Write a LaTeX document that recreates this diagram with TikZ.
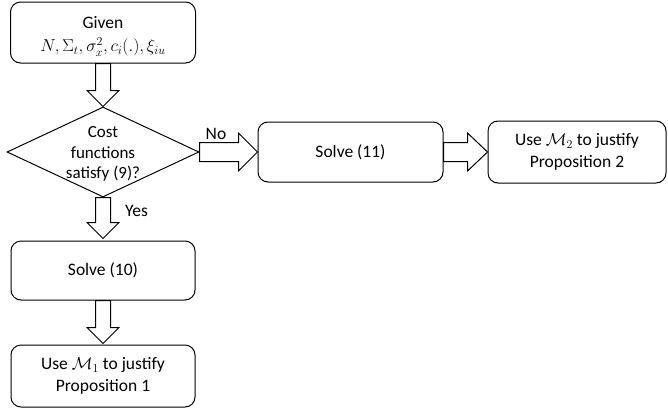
\documentclass[tikz,border=0pt]{standalone}
\usepackage{fontspec}
\setmainfont{Carlito}
\usetikzlibrary{shapes.geometric,calc}
\begin{document}
\begin{tikzpicture}[x=1pt,y=-1pt,
  box/.style={draw, rounded corners=10pt, line width=1pt, inner sep=0pt, align=center,
    font=\fontsize{17.5}{22}\selectfont},
  decision/.style={draw, diamond, inner sep=0pt, line width=1pt},
  barrow/.style={draw, line width=1pt, fill=white, line join=miter},
  lbl/.style={font=\fontsize{17.5}{22}\selectfont, inner sep=0pt}]
\useasboundingbox (0,0) rectangle (668,413);
% nodes
\node[box, minimum width=185pt, minimum height=61pt] (given) at (103,32.5) {};
\node[lbl, align=center] (giventext) at ($(given.center)+(0,4)$)
  {Given\\[1pt]$N,\Sigma_t,\sigma_x^2,c_i(.),\xi_{iu}$};
\node[decision, minimum width=192pt, minimum height=90pt] (dec) at (103,152) {};
\node[lbl, align=center, font=\fontsize{17}{20.5}\selectfont] (dectext) at ($(dec.center)+(0,2)$)
  {Cost\\functions\\satisfy (9)?};
\node[box, minimum width=184pt, minimum height=59pt] (solveten) at (103,270.5) {Solve (10)};
\node[box, minimum width=184pt, minimum height=62pt] (propone) at (103,376)
  {Use $\mathcal{M}_1$ to justify\\Proposition 1};
\node[box, minimum width=185pt, minimum height=60pt] (solveeleven) at (350.5,152) {Solve (11)};
\node[box, minimum width=178pt, minimum height=62pt] (proptwo) at (577,152)
  {Use $\mathcal{M}_2$ to justify\\Proposition 2};
% labels
\node[lbl, anchor=base] (no) at (216,139) {No};
\node[lbl, anchor=base] (yes) at (136.5,216.5) {Yes};
% vertical block arrows
\draw[barrow] ($(given.south)+(-7.5,0)$) -- ($(dec.north)+(-7.5,-16)$) -- ($(dec.north)+(-16,-16)$)
  -- (dec.north) -- ($(dec.north)+(16,-16)$) -- ($(dec.north)+(7.5,-16)$) -- ($(given.south)+(7.5,0)$) -- cycle;
\draw[barrow] ($(dec.south)+(-7.5,0)$) -- ($(solveten.north)+(-7.5,-18)$) -- ($(solveten.north)+(-16,-18)$)
  -- ($(solveten.north)+(0,-2)$) -- ($(solveten.north)+(16,-18)$) -- ($(solveten.north)+(7.5,-18)$) -- ($(dec.south)+(7.5,0)$) -- cycle;
\draw[barrow] ($(solveten.south)+(-7.5,0)$) -- ($(propone.north)+(-7.5,-17)$) -- ($(propone.north)+(-16,-17)$)
  -- ($(propone.north)+(0,-1)$) -- ($(propone.north)+(16,-17)$) -- ($(propone.north)+(7.5,-17)$) -- ($(solveten.south)+(7.5,0)$) -- cycle;
% horizontal block arrows
\draw[barrow] ($(dec.east)+(0,-9.5)$) -- ($(solveeleven.west)+(-19,-9.5)$) -- ($(solveeleven.west)+(-19,-19)$)
  -- (solveeleven.west) -- ($(solveeleven.west)+(-19,19)$) -- ($(solveeleven.west)+(-19,9.5)$) -- ($(dec.east)+(0,9.5)$) -- cycle;
\draw[barrow] ($(solveeleven.east)+(0,-9.5)$) -- ($(proptwo.west)+(-20,-9.5)$) -- ($(proptwo.west)+(-20,-19)$)
  -- (proptwo.west) -- ($(proptwo.west)+(-20,19)$) -- ($(proptwo.west)+(-20,9.5)$) -- ($(solveeleven.east)+(0,9.5)$) -- cycle;
\end{tikzpicture}
\end{document}
